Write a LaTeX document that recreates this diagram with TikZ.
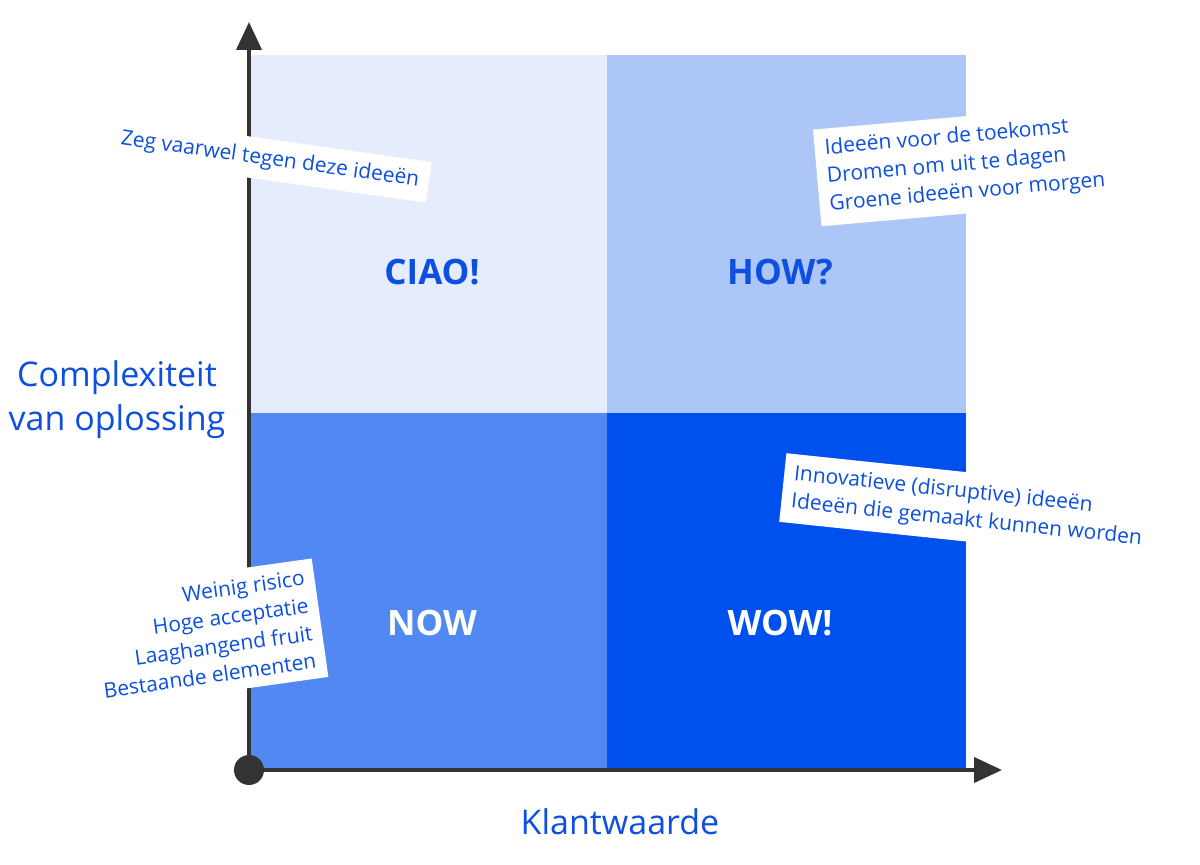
\documentclass[tikz,border=0pt]{standalone}
\usepackage{fontspec}
\setmainfont{Open Sans}
\usetikzlibrary{arrows.meta}
\definecolor{ciao}{RGB}{229,236,251}
\definecolor{how}{RGB}{173,198,248}
\definecolor{now}{RGB}{82,136,242}
\definecolor{wow}{RGB}{0,80,238}
\definecolor{textblue}{RGB}{13,79,224}
\definecolor{axis}{RGB}{51,51,51}
\tikzstyle{quad}=[draw=none,minimum width=179.25pt,minimum height=178.75pt,inner sep=0]
\tikzstyle{title}=[font=\fontsize{17.5}{20}\selectfont\bfseries]
\tikzstyle{note}=[fill=white,text=textblue,font=\fontsize{10.5}{14}\selectfont,inner sep=5pt]
\begin{document}
\begin{tikzpicture}[x=0.5pt,y=-0.5pt]
  \useasboundingbox (0,0) rectangle (1200,865);
  \node[quad,fill=ciao] (Q11) at (428,234) {};
  \node[quad,fill=how] (Q12) at (786.5,234) {};
  \node[quad,fill=now] (Q21) at (428,591.5) {};
  \node[quad,fill=wow] (Q22) at (786.5,591.5) {};

  \node[title,text=textblue] (T11) at (432,272) {CIAO!};
  \node[title,text=textblue] (T12) at (780,272) {HOW?};
  \node[title,text=white] (T21) at (432,623) {NOW};
  \node[title,text=white] (T22) at (780,623) {WOW!};

  %% Axes
  \coordinate (O) at (249,770);
  \coordinate (Y) at (249,22);
  \coordinate (X) at (1002,770);
  \draw[-{Triangle[length=14pt,width=12.5pt]},line width=2pt,color=axis] (O) -- (Y);
  \draw[-{Triangle[length=14pt,width=12.5pt]},line width=2pt,color=axis] (O) -- (X);
  \fill[axis] (O) circle (7.5pt);

  \node[text=textblue,font=\fontsize{17}{22}\selectfont,align=center] (YL) at (117,400) {Complexiteit\\van oplossing};
  \node[text=textblue,font=\fontsize{17}{22}\selectfont] (XL) at (620,822) {Klantwaarde};

  %% Notes
  \node[note,rotate=-8] (N11) at (270,160) {Zeg vaarwel tegen deze ideeën};
  \node[note,rotate=5,align=left] (N12) at (965,165) {Ideeën voor de toekomst\\Dromen om uit te dagen\\Groene ideeën voor morgen};
  \node[note,rotate=-6,align=left] (N22) at (968,507) {Innovatieve (disruptive) ideeën\\Ideeën die gemaakt kunnen worden};
  \node[note,rotate=8,align=right] (N21) at (204,634) {Weinig risico\\Hoge acceptatie\\Laaghangend fruit\\Bestaande elementen};
\end{tikzpicture}
\end{document}
